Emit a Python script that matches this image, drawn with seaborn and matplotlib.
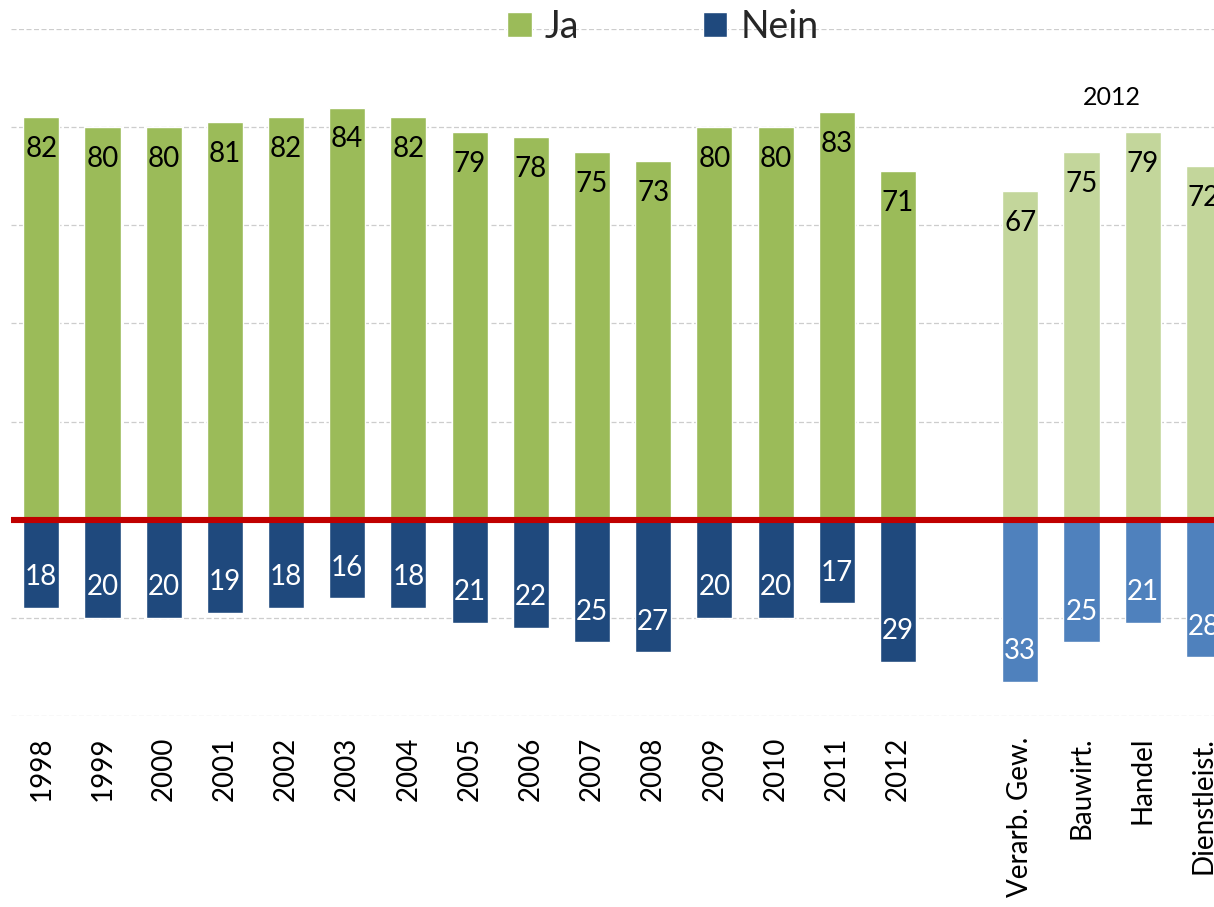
import matplotlib
matplotlib.use("Agg")
import matplotlib.pyplot as plt
from matplotlib.patches import Patch
import pandas as pd
import seaborn as sns

# Survey shares (%) per year, then 2012 broken down by sector
years = ["1998", "1999", "2000", "2001", "2002", "2003", "2004", "2005",
         "2006", "2007", "2008", "2009", "2010", "2011", "2012"]
ja_years = [82, 80, 80, 81, 82, 84, 82, 79, 78, 75, 73, 80, 80, 83, 71]
nein_years = [18, 20, 20, 19, 18, 16, 18, 21, 22, 25, 27, 20, 20, 17, 29]

sectors = ["Verarb. Gew.", "Bauwirt.", "Handel", "Dienstleist."]
ja_sectors = [67, 75, 79, 72]
nein_sectors = [33, 25, 21, 28]

sector_title = "2012"

GREEN = "#9BBB59"
BLUE = "#1F497D"
LIGHT_GREEN = "#C3D69B"
LIGHT_BLUE = "#4F81BD"
RED = "#C00000"

spacer = " "
order = years + [spacer] + sectors

rows = []
for cat, j, n in zip(years, ja_years, nein_years):
    rows.append((cat, j, "Ja"))
    rows.append((cat, -n, "Nein"))
for cat, j, n in zip(sectors, ja_sectors, nein_sectors):
    rows.append((cat, j, "Ja sektor"))
    rows.append((cat, -n, "Nein sektor"))
df = pd.DataFrame(rows, columns=["kategorie", "wert", "gruppe"])

palette = {"Ja": GREEN, "Nein": BLUE, "Ja sektor": LIGHT_GREEN, "Nein sektor": LIGHT_BLUE}

sns.set_theme(style="white")
plt.rcParams["font.family"] = ["Lato", "DejaVu Sans"]

W, H = 1214, 907
fig = plt.figure(figsize=(W / 100, H / 100), dpi=100)
# axes runs slightly past the right figure edge
ax_left, ax_right = 10.7 / W, 1234.5 / W
ax_bottom, ax_top = (H - 716) / H, (H - 29) / H
ax = fig.add_axes([ax_left, ax_bottom, ax_right - ax_left, ax_top - ax_bottom])

sns.barplot(data=df, x="kategorie", y="wert", hue="gruppe", order=order,
            palette=palette, dodge=False, width=0.59, legend=False,
            saturation=1, ax=ax, zorder=2)

ax.set_xlim(-0.5, len(order) - 0.5)
ax.set_ylim(-40, 100)
ax.set_yticks(range(-40, 101, 20))
ax.set_yticklabels([])
ax.yaxis.grid(True, color="#CDCDCD", linestyle=(0, (4, 2)), linewidth=0.9)
ax.xaxis.grid(False)
ax.set_axisbelow(True)
for s in ax.spines.values():
    s.set_visible(False)
ax.tick_params(axis="both", length=0)
ax.tick_params(axis="x", pad=15, labelsize=20, labelrotation=90, colors="black")
ax.set_xlabel("")
ax.set_ylabel("")
for lbl in ax.get_xticklabels():
    lbl.set_va("top")
    lbl.set_ha("center")

ax.axhline(0, color=RED, linewidth=4.4, zorder=4)

# value labels just inside each bar end
pos = {c: i for i, c in enumerate(order)}
for cats, ja, nein in ((years, ja_years, nein_years), (sectors, ja_sectors, nein_sectors)):
    for c, j, n in zip(cats, ja, nein):
        ax.annotate(f"{j}", (pos[c], j), xytext=(0, -23), textcoords="offset points",
                    ha="center", va="center", fontsize=20, color="black", zorder=5)
        ax.annotate(f"{n}", (pos[c], -n), xytext=(0, 22), textcoords="offset points",
                    ha="center", va="center", fontsize=20, color="white", zorder=5)

ax.text(pos["Bauwirt."] + 0.5, 86, sector_title, ha="center", va="center",
        fontsize=18, color="black")

handles = [Patch(facecolor=GREEN, label="Ja"), Patch(facecolor=BLUE, label="Nein")]
fig.legend(handles=handles, loc="center", bbox_to_anchor=(663 / W, 1 - 27 / H),
           ncol=2, frameon=False, fontsize=27, handlelength=0.65, handleheight=0.65,
           handletextpad=0.35, columnspacing=3.3)

fig.savefig("out.png", dpi=100)
